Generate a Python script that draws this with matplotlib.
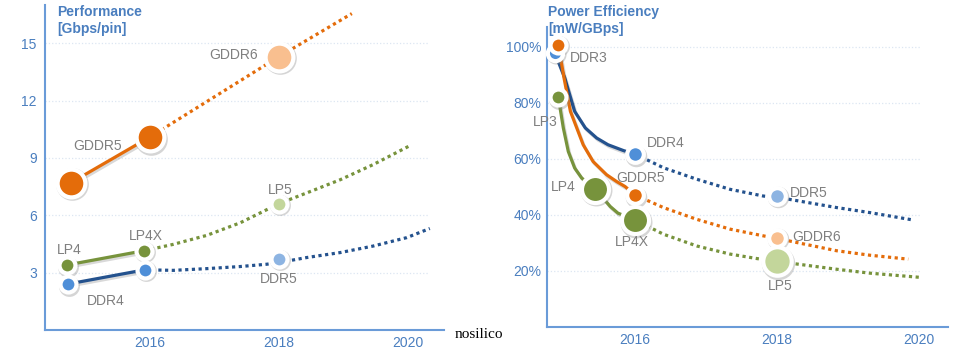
import matplotlib
matplotlib.use("Agg")
import matplotlib.pyplot as plt
import matplotlib.patheffects as pe
from matplotlib.transforms import offset_copy

plt.rcParams['font.family'] = ['Liberation Sans', 'DejaVu Sans']

# ---------------- Performance [Gbps/pin] ----------------
gddr_solid_x = [2014.77, 2016.0]
gddr_solid_y = [7.7, 10.1]
gddr_dot_x = [2016.0, 2017.0, 2018.0, 2019.13]
gddr_dot_y = [10.1, 12.2, 14.3, 16.55]

lp_solid_x = [2014.71, 2015.91]
lp_solid_y = [3.4, 4.15]
lp_dot_x = [2015.91, 2016.36, 2016.88, 2017.40, 2018.0, 2018.43, 2018.95, 2019.46, 2020.03]
lp_dot_y = [4.15, 4.48, 4.95, 5.61, 6.61, 7.17, 7.86, 8.65, 9.64]

ddr_solid_x = [2014.72, 2015.92]
ddr_solid_y = [2.4, 3.15]
ddr_dot_x = [2015.92, 2016.36, 2016.88, 2017.40, 2017.81, 2018.0, 2018.43, 2018.95, 2019.46, 2019.98, 2020.34]
ddr_dot_y = [3.15, 3.12, 3.21, 3.32, 3.44, 3.53, 3.79, 4.05, 4.39, 4.83, 5.31]

perf_pt_x = [2014.77, 2016.0, 2018.0, 2014.71, 2015.91, 2018.0, 2014.72, 2015.92, 2018.0]
perf_pt_y = [7.7, 10.1, 14.3, 3.4, 4.15, 6.6, 2.4, 3.15, 3.73]

perf_labels = ['GDDR6', 'GDDR5', 'LP5', 'LP4X', 'LP4', 'DDR4', 'DDR5']

# ---------------- Power efficiency [mW/GBps] ----------------
ddr_pw_solid_x = [2014.87, 2015.01, 2015.15, 2015.30, 2015.46, 2015.62, 2015.84, 2016.0]
ddr_pw_solid_y = [97.8, 88.8, 76.9, 71.0, 67.4, 65.0, 62.9, 61.7]
ddr_pw_dot_x = [2016.0, 2016.40, 2016.87, 2017.34, 2017.81, 2018.0, 2018.84, 2019.31, 2019.91]
ddr_pw_dot_y = [61.7, 56.8, 52.7, 49.1, 46.7, 46.3, 42.6, 40.8, 38.2]

gddr_pw_solid_x = [2014.92, 2015.00, 2015.09, 2015.27, 2015.41, 2015.60, 2015.74, 2015.86, 2016.0]
gddr_pw_solid_y = [100.7, 88.8, 76.9, 65.0, 59.0, 54.3, 51.9, 50.1, 47.1]
gddr_pw_dot_x = [2016.0, 2016.40, 2016.87, 2017.34, 2017.81, 2018.0, 2018.84, 2019.31, 2019.85]
gddr_pw_dot_y = [47.1, 42.6, 38.4, 34.9, 32.5, 31.6, 27.2, 25.6, 24.2]

lp_pw_solid_x = [2014.92, 2014.99, 2015.06, 2015.15, 2015.25, 2015.44, 2015.65, 2015.76, 2016.0]
lp_pw_solid_y = [81.9, 71.0, 62.6, 56.7, 53.1, 49.3, 43.0, 40.6, 38.2]
lp_pw_dot_x = [2016.0, 2016.40, 2016.87, 2017.34, 2017.72, 2018.0, 2018.84, 2019.31, 2020.02]
lp_pw_dot_y = [38.2, 33.1, 28.9, 26.0, 24.4, 23.4, 20.6, 19.2, 17.7]

pow_pt_x = [2014.87, 2014.92, 2014.92, 2016.0, 2016.0, 2015.44, 2016.0, 2018.0, 2018.0, 2018.0]
pow_pt_y = [97.8, 100.7, 81.9, 61.7, 47.1, 49.3, 38.2, 46.8, 31.9, 23.4]

pow_labels = ['DDR3', 'LP3', 'DDR4', 'GDDR5', 'LP4', 'LP4X', 'DDR5', 'GDDR6', 'LP5']

# colours
ORANGE = '#e46c0a'
ORANGE_L = '#f9bf8f'
GREEN = '#77933c'
GREEN_L = '#c3d69b'
BLUE = '#4f8fd8'
BLUE_L = '#8db4e2'
NAVY = '#24528e'
TXT = '#7f7f7f'
AXBLUE = '#4a7ebf'
SPINE = '#6a9bd8'

perf_pt_col = [ORANGE, ORANGE, ORANGE_L, GREEN, GREEN, GREEN_L, BLUE, BLUE, BLUE_L]
perf_pt_ms = [20, 20, 20, 11.5, 11.5, 11.5, 11.5, 11.5, 11.5]
pow_pt_col = [BLUE, ORANGE, GREEN, BLUE, ORANGE, GREEN, GREEN, BLUE_L, ORANGE_L, GREEN_L]
pow_pt_ms = [11, 11.5, 11.5, 12, 12, 19.5, 19.5, 12, 12, 20.5]

fig = plt.figure(figsize=(9.77, 3.57), dpi=100)
ax1 = fig.add_axes([45 / 977, 27 / 357, 399 / 977, 325 / 357])
ax2 = fig.add_axes([547 / 977, 30 / 357, 401 / 977, 300 / 357])

line_fx = [pe.SimpleLineShadow(offset=(1, -1.5), shadow_color='k', alpha=0.15), pe.Normal()]


def draw_line(ax, x, y, color, dotted):
    if dotted:
        ax.plot(x, y, color=color, lw=2.3, ls=(0, (1, 1.1)), dash_capstyle='butt',
                zorder=2, clip_on=False)
    else:
        ax.plot(x, y, color=color, lw=2.3, solid_capstyle='round', solid_joinstyle='round',
                path_effects=line_fx, zorder=2, clip_on=False)


def draw_points(ax, xs, ys, cols, sizes):
    shadow = offset_copy(ax.transData, fig=fig, x=0.8, y=-1.2, units='points')
    for x, y, c, ms in zip(xs, ys, cols, sizes):
        ax.plot([x], [y], 'o', ms=ms + 3.5, color='#888888', alpha=0.35, mew=0,
                transform=shadow, zorder=3, clip_on=False)
        ax.plot([x], [y], 'o', ms=ms, mfc=c, mec='white', mew=3, zorder=4, clip_on=False)


def style_axes(ax, xlim, ylim, yticks, ylabels, grid_end, pad):
    ax.set_xlim(*xlim)
    ax.set_ylim(*ylim)
    for s in ['top', 'right']:
        ax.spines[s].set_visible(False)
    for s in ['left', 'bottom']:
        ax.spines[s].set_color(SPINE)
        ax.spines[s].set_linewidth(1.5)
    ax.set_xticks([2016, 2018, 2020])
    ax.set_xticklabels(['2016', '2018', '2020'])
    ax.set_yticks(yticks)
    ax.set_yticklabels(ylabels)
    ax.tick_params(length=0, labelsize=10, labelcolor=AXBLUE)
    ax.tick_params(axis='y', pad=pad)
    ax.tick_params(axis='x', pad=4)
    ax.hlines(yticks, xlim[0], grid_end, colors='#dce6f2', lw=0.9, linestyles=':', zorder=1)
    ax.patch.set_alpha(0)


# left chart
draw_line(ax1, gddr_solid_x, gddr_solid_y, ORANGE, False)
draw_line(ax1, gddr_dot_x, gddr_dot_y, ORANGE, True)
draw_line(ax1, lp_solid_x, lp_solid_y, GREEN, False)
draw_line(ax1, lp_dot_x, lp_dot_y, GREEN, True)
draw_line(ax1, ddr_solid_x, ddr_solid_y, NAVY, False)
draw_line(ax1, ddr_dot_x, ddr_dot_y, NAVY, True)
draw_points(ax1, perf_pt_x, perf_pt_y, perf_pt_col, perf_pt_ms)
style_axes(ax1, (2014.37, 2020.56), (0, 17), [3, 6, 9, 12, 15],
           ['3', '6', '9', '12', '15'], 2020.31, 6)

perf_lab_pos = [(2017.67, 14.38, 'right'), (2015.19, 9.62, 'center'), (2018.02, 7.32, 'center'),
                (2015.94, 4.91, 'center'), (2014.74, 4.18, 'center'), (2015.32, 1.52, 'center'),
                (2018.0, 2.67, 'center')]
for name, (x, y, ha) in zip(perf_labels, perf_lab_pos):
    ax1.text(x, y, name, ha=ha, va='center', fontsize=10, color=TXT, zorder=5)

# right chart
draw_line(ax2, ddr_pw_solid_x, ddr_pw_solid_y, NAVY, False)
draw_line(ax2, ddr_pw_dot_x, ddr_pw_dot_y, NAVY, True)
draw_line(ax2, gddr_pw_solid_x, gddr_pw_solid_y, ORANGE, False)
draw_line(ax2, gddr_pw_dot_x, gddr_pw_dot_y, ORANGE, True)
draw_line(ax2, lp_pw_solid_x, lp_pw_solid_y, GREEN, False)
draw_line(ax2, lp_pw_dot_x, lp_pw_dot_y, GREEN, True)
draw_points(ax2, pow_pt_x, pow_pt_y, pow_pt_col, pow_pt_ms)
style_axes(ax2, (2014.76, 2020.41), (0, 107), [20, 40, 60, 80, 100],
           ['20%', '40%', '60%', '80%', '100%'], 2020.01, 4)

pow_lab_pos = [(2015.08, 95.8, 'left'), (2014.73, 73, 'center'), (2016.17, 65.8, 'left'),
               (2016.08, 53, 'center'), (2014.99, 49.8, 'center'), (2015.96, 30.2, 'center'),
               (2018.18, 47.7, 'left'), (2018.21, 32, 'left'), (2018.04, 14.6, 'center')]
for name, (x, y, ha) in zip(pow_labels, pow_lab_pos):
    ax2.text(x, y, name, ha=ha, va='center', fontsize=10, color=TXT, zorder=5)

# titles
fig.text(57 / 977, 1 - 5 / 357, 'Performance\n[Gbps/pin]', ha='left', va='top',
         fontsize=10, fontweight='bold', color=AXBLUE, linespacing=1.25)
fig.text(548 / 977, 1 - 5 / 357, 'Power Efficiency\n[mW/GBps]', ha='left', va='top',
         fontsize=10, fontweight='bold', color=AXBLUE, linespacing=1.25)

fig.text(455 / 977, 1 - 335 / 357, 'nosilico', ha='left', va='center',
         fontsize=11, family='Liberation Serif', color='black')

fig.savefig('out.png', dpi=100)
